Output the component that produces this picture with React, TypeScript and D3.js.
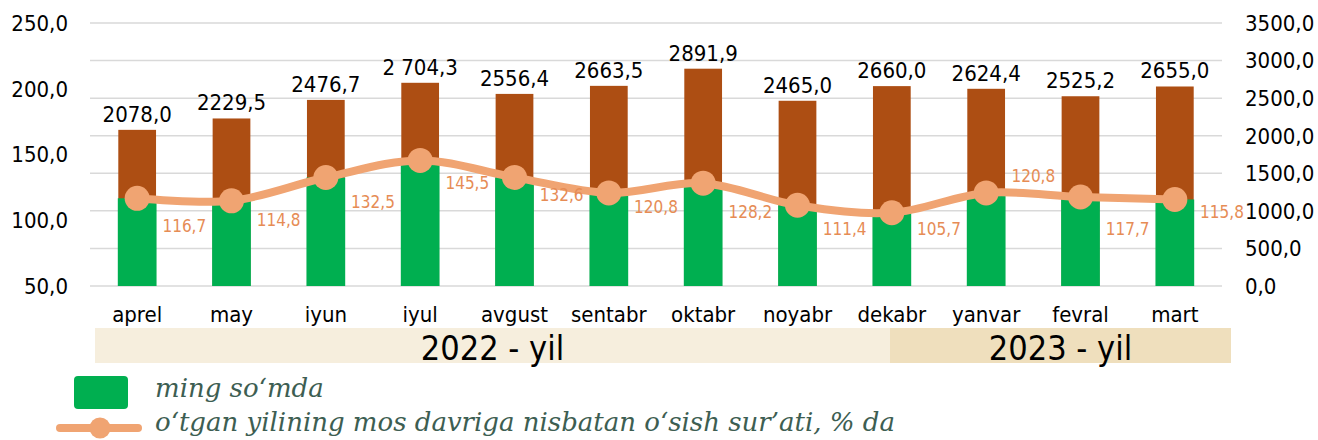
import React from "react";
import * as d3 from "d3";

const WIDTH = 1318;
const HEIGHT = 440;

const months = ["aprel", "may", "iyun", "iyul", "avgust", "sentabr", "oktabr", "noyabr", "dekabr", "yanvar", "fevral", "mart"];
const amount = [2078.0, 2229.5, 2476.7, 2704.3, 2556.4, 2663.5, 2891.9, 2465.0, 2660.0, 2624.4, 2525.2, 2655.0];
const amountLabels = ["2078,0", "2229,5", "2476,7", "2 704,3", "2556,4", "2663,5", "2891,9", "2465,0", "2660,0", "2624,4", "2525,2", "2655,0"];
const growth = [116.7, 114.8, 132.5, 145.5, 132.6, 120.8, 128.2, 111.4, 105.7, 120.8, 117.7, 115.8];
const leftTicks = [50, 100, 150, 200, 250];
const rightTicks = [0, 500, 1000, 1500, 2000, 2500, 3000, 3500];
const years = ["2022 - yil", "2023 - yil"];

// vertical nudges of the growth labels (as placed in the original)
const growthLabelDy = [28, 19, 24, 22, 17, 14, 29, 24, 16, -17, 32, 12];

const FONT = "'DejaVu Sans Condensed', 'DejaVu Sans', sans-serif";
const SERIF = "'DejaVu Serif', serif";
const BROWN = "#AD4E13";
const GREEN = "#00AF50";
const PEACH = "#F0A472";
const PEACH_TEXT = "#E68C55";

const M = { left: 90, right: 1222, top: 23, bottom: 286 };
const BAND_X = [95, 890, 1231];
const BAND_Y = [328, 363];

const fmt = (v: number) => d3.format(".1f")(v).replace(".", ",");

export default function App() {
  const x = d3.scaleBand<string>().domain(months).range([M.left, M.right]).paddingInner(0.6).paddingOuter(0.3);
  const yL = d3.scaleLinear().domain([50, 250]).range([M.bottom, M.top]);
  const yR = d3.scaleLinear().domain([0, 3500]).range([M.bottom, M.top]);
  const step = x.step();
  const cx = (m: string) => (x(m) ?? 0) + x.bandwidth() / 2;

  const line = d3.line<number>()
    .x((_, i) => cx(months[i]))
    .y(d => yL(d))
    .curve(d3.curveCatmullRom.alpha(0.5));

  return (
    <svg width={WIDTH} height={HEIGHT} style={{ position: "absolute", left: 0, top: 0, background: "#fff" }}>
      {rightTicks.map(t => (
        <line key={"g" + t} x1={M.left} x2={M.right} y1={yR(t)} y2={yR(t)} stroke="#D9D9D9" strokeWidth={1.5} />
      ))}
      {leftTicks.map(t => (
        <text key={"l" + t} x={68} y={yL(t)} dy="0.36em" textAnchor="end" fontFamily={FONT} fontSize={22} fill="#000">
          {fmt(t)}
        </text>
      ))}
      {rightTicks.map(t => (
        <text key={"r" + t} x={1245} y={yR(t)} dy="0.36em" textAnchor="start" fontFamily={FONT} fontSize={22} fill="#000">
          {fmt(t)}
        </text>
      ))}

      {months.map((m, i) => (
        <rect key={"b" + m} x={x(m)} y={yR(amount[i])} width={x.bandwidth()} height={M.bottom - yR(amount[i])} fill={BROWN} />
      ))}
      {months.map((m, i) => (
        <rect key={"gr" + m} x={(x(m) ?? 0) - 0.5} y={yL(growth[i])} width={x.bandwidth() + 1} height={M.bottom - yL(growth[i])} fill={GREEN} />
      ))}
      {months.map((m, i) => (
        <text key={"al" + m} x={cx(m)} y={yR(amount[i]) - 8} textAnchor="middle" fontFamily={FONT} fontSize={22} fill="#000">
          {amountLabels[i]}
        </text>
      ))}

      <path d={line(growth) || ""} fill="none" stroke={PEACH} strokeWidth={8} strokeLinecap="round" />
      {months.map((m, i) => (
        <circle key={"c" + m} cx={cx(m)} cy={yL(growth[i])} r={12.5} fill={PEACH} />
      ))}
      {months.map((m, i) => (
        <text key={"gl" + m} x={cx(m) + step / 2} y={yL(growth[i]) + growthLabelDy[i]} dy="0.36em" textAnchor="middle"
          fontFamily={FONT} fontSize={17} fill={PEACH_TEXT}>
          {fmt(growth[i])}
        </text>
      ))}

      {months.map(m => (
        <text key={"m" + m} x={cx(m)} y={322} textAnchor="middle" fontFamily={FONT} fontSize={22} fill="#000">
          {m}
        </text>
      ))}

      <rect x={BAND_X[0]} y={BAND_Y[0]} width={BAND_X[1] - BAND_X[0]} height={BAND_Y[1] - BAND_Y[0]} fill="#F6EEDD" />
      <rect x={BAND_X[1]} y={BAND_Y[0]} width={BAND_X[2] - BAND_X[1]} height={BAND_Y[1] - BAND_Y[0]} fill="#EFDFBD" />
      {years.map((yl, i) => (
        <text key={yl} x={(BAND_X[i] + BAND_X[i + 1]) / 2} y={360} textAnchor="middle" fontFamily={FONT} fontSize={34} fill="#000">
          {yl}
        </text>
      ))}

      <rect x={74} y={376} width={54} height={33} rx={4} fill={GREEN} />
      <text x={155} y={397} fontFamily={SERIF} fontStyle="italic" fontSize={26} fill="#3D5E52">
        ming so‘mda
      </text>
      <line x1={60} x2={138} y1={428} y2={428} stroke={PEACH} strokeWidth={8} strokeLinecap="round" />
      <circle cx={100} cy={428} r={10.5} fill={PEACH} />
      <text x={155} y={431} fontFamily={SERIF} fontStyle="italic" fontSize={26} fill="#3D5E52">
        o‘tgan yilining mos davriga nisbatan o‘sish sur’ati, % da
      </text>
    </svg>
  );
}
